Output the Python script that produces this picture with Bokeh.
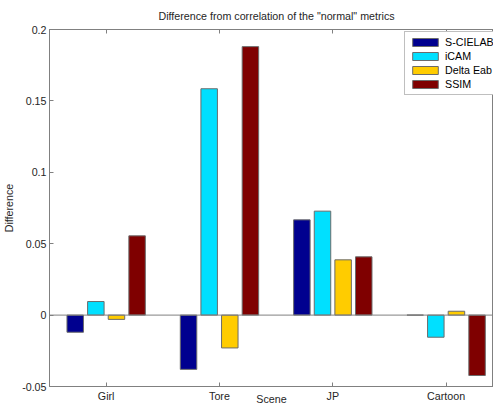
from bokeh.plotting import figure
from bokeh.models import (ColumnDataSource, FixedTicker, LinearAxis, Span, Legend,
                          LegendItem, Range1d)
from bokeh.embed import file_html
from bokeh.resources import INLINE

# ---- data ----
scenes = ["Girl", "Tore", "JP", "Cartoon"]
scene_pos = [1, 2, 3, 4]
metrics = ["S-CIELAB", "iCAM", "Delta Eab", "SSIM"]
s_cielab = [-0.012, -0.038, 0.0667, 0.0]
icam = [0.0095, 0.1585, 0.0728, -0.0155]
delta_eab = [-0.003, -0.023, 0.0387, 0.0027]
ssim = [0.0555, 0.188, 0.0408, -0.0423]
y_ticks = [-0.05, 0, 0.05, 0.1, 0.15, 0.2]
y_tick_labels = ["-0.05", "0", "0.05", "0.1", "0.15", "0.2"]

series = [s_cielab, icam, delta_eab, ssim]
colors = ["#00008F", "#00E0FF", "#FFCC00", "#7F0000"]
offsets = [-0.273, -0.091, 0.091, 0.273]
bar_w = 0.1455

FONT = "Liberation Sans"
FS = "10.7px"
AX = "#808080"
TXT = "#262626"

p = figure(frame_width=444, frame_height=357, output_backend="svg", toolbar_location=None,
           x_range=Range1d(0.5, 4.418), y_range=Range1d(-0.05, 0.2),
           min_border_left=45, min_border_right=0, min_border_top=21,
           min_border_bottom=19, x_axis_location="below")
p.title.text = 'Difference from correlation of the "normal" metrics'
p.title.align = "left"
p.title.text_font = FONT
p.title.text_font_size = FS
p.title.text_font_style = "normal"
p.title.text_color = TXT
p.title.offset = 109
p.title.standoff = 15

p.xgrid.visible = False
p.ygrid.visible = False
p.outline_line_color = AX
p.background_fill_color = "white"
p.border_fill_color = "white"

p.add_layout(Span(location=0, dimension="width", line_color=AX, line_width=1))

items = []
for vals, c, off, name in zip(series, colors, offsets, metrics):
    src = ColumnDataSource(dict(x=[s + off for s in scene_pos], top=vals,
                                bottom=[0] * len(vals)))
    r = p.vbar(x="x", top="top", bottom="bottom", width=bar_w, source=src,
               fill_color=c, line_color="#6b6b6b", line_width=1)
    items.append(LegendItem(label=name, renderers=[r]))

xa = p.xaxis[0]
xa.ticker = FixedTicker(ticks=scene_pos)
xa.major_label_overrides = {s: n for s, n in zip(scene_pos, scenes)}
xa.axis_label = "Scene"
ya = p.yaxis[0]
ya.ticker = FixedTicker(ticks=y_ticks)
ya.major_label_overrides = {t: l for t, l in zip(y_ticks, y_tick_labels)}
ya.axis_label = "Difference"

for ax in (xa, ya):
    ax.minor_tick_line_color = None
    ax.major_tick_in = 4
    ax.major_tick_out = 0
    ax.axis_line_color = AX
    ax.major_tick_line_color = AX
    ax.major_label_text_font = FONT
    ax.major_label_text_font_size = FS
    ax.major_label_text_color = TXT
    ax.axis_label_text_font = FONT
    ax.axis_label_text_font_size = FS
    ax.axis_label_text_font_style = "normal"
    ax.axis_label_text_color = TXT
    ax.major_label_standoff = 3
    ax.axis_label_standoff = 3
xa.axis_label_standoff = -12
ya.axis_label_standoff = 4

top = LinearAxis(ticker=FixedTicker(ticks=scene_pos),
                 major_label_overrides={s: "" for s in scene_pos},
                 major_tick_in=4, major_tick_out=0, minor_tick_line_color=None,
                 axis_line_color=AX, major_tick_line_color=AX, major_label_standoff=0)
p.add_layout(top, "above")

leg = Legend(items=items, location=(355, 291), orientation="vertical",
             glyph_width=32, glyph_height=10, label_height=12, spacing=2,
             padding=4, margin=0, label_standoff=4,
             label_text_font=FONT, label_text_font_size=FS, label_text_color="#000000",
             border_line_color=AX, background_fill_color="white", background_fill_alpha=1)
p.add_layout(leg, "center")

open("out.html", "w").write(file_html(p, INLINE))
